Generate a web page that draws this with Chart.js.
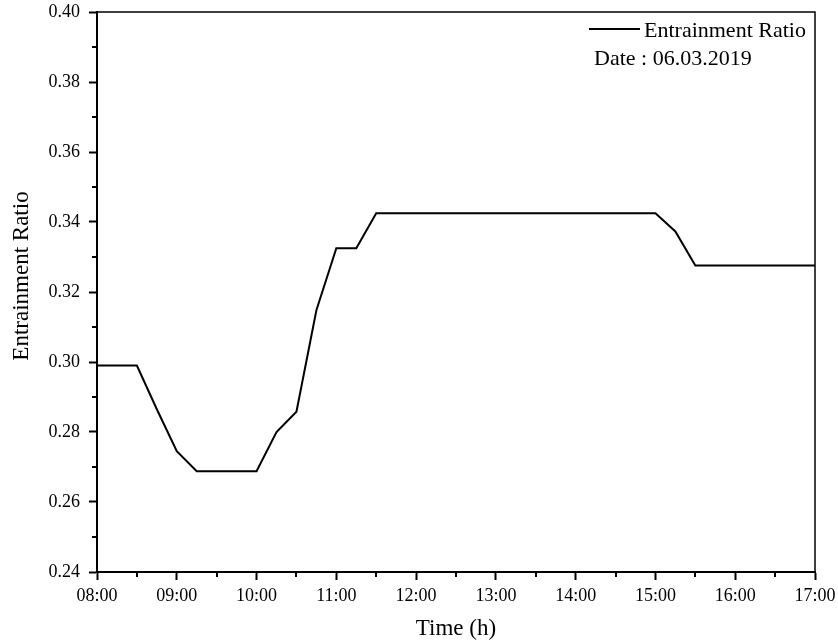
<!DOCTYPE html>
<html>
<head>
<meta charset="utf-8">
<script src="https://cdn.jsdelivr.net/npm/chart.js@4/dist/chart.umd.min.js"></script>
<style>
  html, body { margin: 0; padding: 0; background: #fff; }
  #wrap { width: 838px; height: 643px; }
</style>
</head>
<body>
<div id="wrap"><canvas id="chart-ratio"></canvas></div>
<script>
/* Entrainment ratio over the day, sampled every 15 min */

const times = [
  '08:00', '08:15', '08:30', '08:45', '09:00', '09:15', '09:30', '09:45',
  '10:00', '10:15', '10:30', '10:45', '11:00', '11:15', '11:30', '11:45',
  '12:00', '12:15', '12:30', '12:45', '13:00', '13:15', '13:30', '13:45',
  '14:00', '14:15', '14:30', '14:45', '15:00', '15:15', '15:30', '15:45',
  '16:00', '16:15', '16:30', '16:45', '17:00'
];

const ratio = [
  0.2990, 0.2990, 0.2990, 0.2865, 0.2745, 0.2688, 0.2688, 0.2688,
  0.2688, 0.2800, 0.2858, 0.3148, 0.3325, 0.3325, 0.3425, 0.3425,
  0.3425, 0.3425, 0.3425, 0.3425, 0.3425, 0.3425, 0.3425, 0.3425,
  0.3425, 0.3425, 0.3425, 0.3425, 0.3425, 0.3373, 0.3276, 0.3276,
  0.3276, 0.3276, 0.3276, 0.3276, 0.3276
];

const yTicks = [0.24, 0.26, 0.28, 0.30, 0.32, 0.34, 0.36, 0.38, 0.40];
const xTicks = ['08:00', '09:00', '10:00', '11:00', '12:00', '13:00', '14:00', '15:00', '16:00', '17:00'];

const seriesLabel = 'Entrainment Ratio';
const dateNote = 'Date : 06.03.2019';
const xTitle = 'Time (h)';
const yTitle = 'Entrainment Ratio';

const SERIF = '"Liberation Serif", "Times New Roman", serif';

function toHours(t) {
  const [h, m] = t.split(':').map(Number);
  return h + m / 60;
}

function fmtHour(v) {
  const h = Math.floor(v);
  return (h < 10 ? '0' : '') + h + ':00';
}

const points = times.map((t, i) => ({ x: toHours(t), y: ratio[i] }));
const xMin = toHours(xTicks[0]);
const xMax = toHours(xTicks[xTicks.length - 1]);

// frame, minor ticks, legend text and y title
const framePlugin = {
  id: 'frame',
  afterDraw(chart) {
    const { ctx, chartArea: a, scales } = chart;
    const xs = scales.x, ys = scales.y;
    ctx.save();
    ctx.strokeStyle = '#000';

    // top and right edges
    ctx.lineWidth = 1.5;
    ctx.beginPath();
    ctx.moveTo(a.left, a.top);
    ctx.lineTo(a.right, a.top);
    ctx.lineTo(a.right, a.bottom);
    ctx.stroke();

    // minor ticks halfway between majors
    ctx.lineWidth = 2;
    ctx.beginPath();
    for (let v = xMin + 0.5; v < xMax; v += 1) {
      const px = Math.round(xs.getPixelForValue(v));
      ctx.moveTo(px, a.bottom);
      ctx.lineTo(px, a.bottom + 5);
    }
    for (let i = 0; i < yTicks.length - 1; i++) {
      const py = Math.round(ys.getPixelForValue((yTicks[i] + yTicks[i + 1]) / 2));
      ctx.moveTo(a.left, py);
      ctx.lineTo(a.left - 5, py);
    }
    ctx.stroke();

    // legend entry
    ctx.lineWidth = 2;
    ctx.beginPath();
    ctx.moveTo(589, 29);
    ctx.lineTo(640, 29);
    ctx.stroke();
    ctx.fillStyle = '#000';
    ctx.font = '22px ' + SERIF;
    ctx.textBaseline = 'alphabetic';
    ctx.textAlign = 'left';
    ctx.fillText(seriesLabel, 644, 37);
    ctx.fillText(dateNote, 594, 65);

    // y axis title
    ctx.font = '23px ' + SERIF;
    ctx.translate(28, 276);
    ctx.rotate(-Math.PI / 2);
    ctx.textAlign = 'center';
    ctx.fillText(yTitle, 0, 0);
    ctx.restore();
  }
};

const ctx = document.getElementById('chart-ratio');

new Chart(ctx, {
  type: 'line',
  data: {
    datasets: [{
      label: seriesLabel,
      data: points,
      borderColor: '#000',
      borderWidth: 2,
      pointRadius: 0,
      fill: false,
      tension: 0
    }]
  },
  options: {
    responsive: true,
    maintainAspectRatio: false,
    animation: false,
    layout: { padding: { left: 0, right: 23, top: 12, bottom: 0 } },
    plugins: {
      legend: { display: false },
      tooltip: { enabled: false }
    },
    scales: {
      x: {
        type: 'linear',
        min: xMin,
        max: xMax,
        afterBuildTicks: (scale) => {
          scale.ticks = xTicks.map(t => ({ value: toHours(t) }));
        },
        // labels may hang past the plot edges; don't shrink the plot for them
        afterFit: (scale) => {
          scale.height = 71;
          scale.paddingLeft = 0;
          scale.paddingRight = 0;
        },
        border: { color: '#000', width: 2 },
        grid: { drawOnChartArea: false, drawTicks: true, tickLength: 8, tickColor: '#000', tickWidth: 2 },
        ticks: {
          color: '#000',
          padding: 5,
          maxRotation: 0,
          font: { family: SERIF, size: 18 },
          callback: (v) => fmtHour(v)
        },
        title: {
          display: true,
          text: xTitle,
          color: '#000',
          font: { family: SERIF, size: 23 },
          padding: { top: 4, bottom: 0 }
        }
      },
      y: {
        min: yTicks[0],
        max: yTicks[yTicks.length - 1],
        afterBuildTicks: (scale) => {
          scale.ticks = yTicks.map(v => ({ value: v }));
        },
        afterFit: (scale) => {
          scale.width = 97;
          scale.paddingTop = 0;
          scale.paddingBottom = 0;
        },
        border: { color: '#000', width: 2 },
        grid: { drawOnChartArea: false, drawTicks: true, tickLength: 8, tickColor: '#000', tickWidth: 2 },
        ticks: {
          color: '#000',
          padding: 9,
          font: { family: SERIF, size: 18 },
          callback: (v) => v.toFixed(2)
        }
      }
    }
  },
  plugins: [framePlugin]
});
</script>
</body>
</html>
